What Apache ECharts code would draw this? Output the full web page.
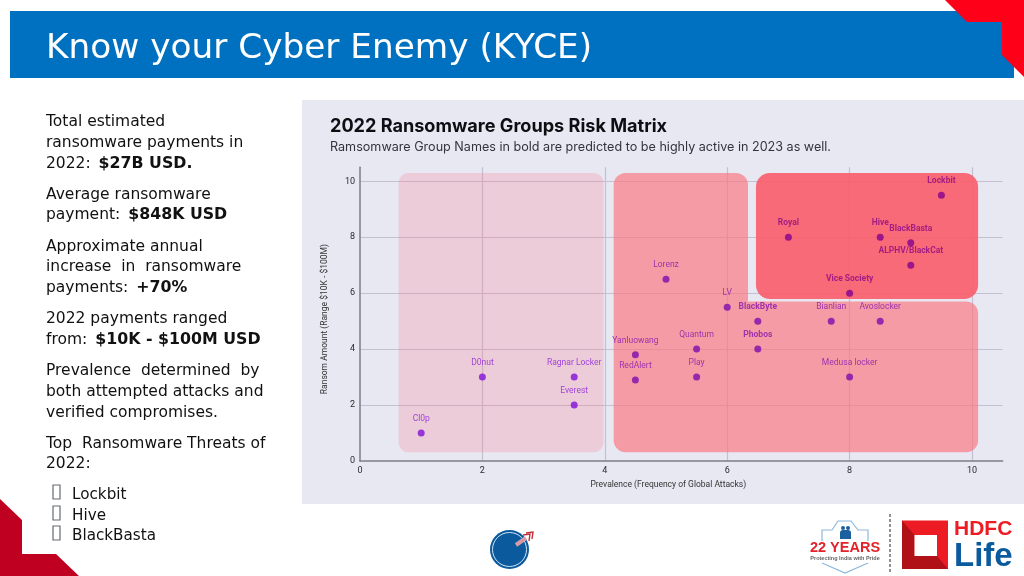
<!DOCTYPE html>
<html>
<head>
<meta charset="utf-8">
<title>Know your Cyber Enemy (KYCE)</title>
<style>
  html, body { margin: 0; padding: 0; background: #fff; }
  #main { width: 1024px; height: 576px; }
</style>
</head>
<body>
<div id="main"></div>
<script src="https://cdn.jsdelivr.net/npm/echarts@6/dist/echarts.min.js"></script>
<script>
// groups
const groupNames = ["Cl0p", "D0nut", "Ragnar Locker", "Everest", "Yanluowang", "RedAlert", "Lorenz", "LV", "Quantum", "Play", "Medusa locker", "Bianlian", "Avoslocker"];
const prevalence = [1, 2, 3.5, 3.5, 4.5, 4.5, 5, 6, 5.5, 5.5, 8, 7.7, 8.5];
const ransomAmount = [1, 3, 3, 2, 3.8, 2.9, 6.5, 5.5, 4, 3, 3, 5, 5];
const groupTiers = [0, 0, 0, 0, 1, 1, 1, 1, 1, 1, 1, 1, 1];

// names in bold
const activeNames = ["BlackByte", "Phobos", "Vice Society", "Royal", "Hive", "BlackBasta", "ALPHV/BlackCat", "Lockbit"];
const activePrevalence = [6.5, 6.5, 8, 7, 8.5, 9, 9, 9.5];
const activeRansom = [5, 4, 6, 8, 8, 7.8, 7, 9.5];
const activeTiers = [1, 1, 2, 2, 2, 2, 2, 2];

// risk zones: x0, y0, x1, y1, zone tier
const zoneLow = [0.63, 0.31, 3.98, 10.3, 0];
const zoneMidTall = [4.145, 0.31, 6.34, 10.3, 1];
const zoneMidWide = [6.34, 0.31, 10.1, 5.7, 2];
const zoneHigh = [6.47, 5.79, 10.1, 10.3, 3];

const xTicksMax = 10.5;
const yTicksMax = 10.5;

const zoneColors = ["rgba(248,120,135,0.25)", "rgba(249,122,133,0.7)", "rgba(249,122,133,0.7)", "rgba(251,92,106,0.9)"];
const zoneRadius = [[10, 10, 10, 10], [12, 12, 0, 12], [0, 12, 12, 0], [14, 14, 14, 14]];
const dotColors = ["#8210d8", "#7c0cae", "#86008e"];
const labelColors = ["#8c22d8", "#8c16ac", "#8e0a84"];

const bodyFont = "DejaVu Sans";
const labelFont = "Roboto";

function pointData(xs, ys, names, tiers) {
  return xs.map((x, i) => ({
    value: [x, ys[i]],
    name: names[i],
    itemStyle: { color: dotColors[tiers[i]] },
    label: { color: labelColors[tiers[i]] }
  }));
}

function renderZone(params, api) {
  const a = api.coord([api.value(0), api.value(3)]);
  const b = api.coord([api.value(2), api.value(1)]);
  const tier = api.value(4);
  return {
    type: "rect",
    shape: { x: a[0], y: a[1], width: b[0] - a[0], height: b[1] - a[1], r: zoneRadius[tier] },
    style: { fill: zoneColors[tier] }
  };
}

// left column, one entry per line: [y, rich text]
const bodyLines = [
  [121, "Total estimated"],
  [142, "ransomware payments in"],
  [163, "2022: {b|$27B USD.}"],
  [194, "Average ransomware"],
  [214, "payment: {b|$848K USD}"],
  [246, "Approximate annual"],
  [266, "increase  in  ransomware"],
  [287, "payments: {b|+70%}"],
  [318, "2022 payments ranged"],
  [339, "from: {b|$10K - $100M USD}"],
  [370, "Prevalence  determined  by"],
  [391, "both attempted attacks and"],
  [412, "verified compromises."],
  [443, "Top  Ransomware Threats of"],
  [463, "2022:"]
];
const bulletLines = [[494, "Lockbit"], [515, "Hive"], [535, "BlackBasta"]];

const slideGraphics = [
  { type: "rect", z: -5, shape: { x: 10, y: 11, width: 1004, height: 67 }, style: { fill: "#0070c0" } },
  { type: "polygon", z: -4, shape: { points: [[945, 0], [1024, 0], [1024, 77], [1002, 55], [1002, 22], [967, 22]] }, style: { fill: "#ff0019" } },
  { type: "polygon", z: -4, shape: { points: [[0, 499], [22, 520], [22, 554], [56, 554], [79, 576], [0, 576]] }, style: { fill: "#c00020" } },
  { type: "rect", z: -5, shape: { x: 302, y: 100, width: 722, height: 404 }, style: { fill: "#e8e8f3" } },
  { type: "text", x: 46, y: 49, style: { text: "Know your Cyber Enemy (KYCE)", fill: "#fff", font: "34.3px 'DejaVu Sans'", textVerticalAlign: "middle" } }
];

bodyLines.forEach(([y, text]) => {
  slideGraphics.push({
    type: "text", x: 46, y: y + 1,
    style: {
      text: text, fill: "#111", fontFamily: bodyFont, fontSize: 15.5, textVerticalAlign: "middle",
      rich: { b: { fontFamily: bodyFont, fontSize: 15.8, fontWeight: "bold", fill: "#111", padding: [0, 0, 0, 3] } }
    }
  });
});
bulletLines.forEach(([y, text]) => {
  slideGraphics.push({ type: "rect", shape: { x: 53, y: y - 9, width: 7, height: 14 }, style: { fill: "none", stroke: "#666a72", lineWidth: 1.2 } });
  slideGraphics.push({ type: "text", x: 72, y: y + 1.5, style: { text: text, fill: "#111", fontFamily: bodyFont, fontSize: 15.2, textVerticalAlign: "middle" } });
});

// footer logos
slideGraphics.push(
  { type: "circle", shape: { cx: 509.5, cy: 549.5, r: 19.5 }, style: { fill: "#0b5a9e" } },
  { type: "circle", shape: { cx: 509.5, cy: 549.5, r: 17 }, style: { fill: "none", stroke: "#cfe4f2", lineWidth: 1 } },
  { type: "line", shape: { x1: 516, y1: 545, x2: 526, y2: 538 }, style: { stroke: "#d99aa8", lineWidth: 4 } },
  { type: "polyline", shape: { points: [[523, 535], [530, 534], [529, 541]] }, style: { fill: "none", stroke: "#c0303a", lineWidth: 1.4 } },
  { type: "polyline", shape: { points: [[526, 533], [533, 532], [532, 539]] }, style: { fill: "none", stroke: "#c0303a", lineWidth: 1.4 } },
  { type: "polyline", shape: { points: [[822, 541], [822, 530], [832, 530], [838, 521], [851, 521], [858, 530], [868, 530], [868, 541]] }, style: { fill: "none", stroke: "#8db8dc", lineWidth: 1.2 } },
  { type: "polyline", shape: { points: [[822, 563], [845, 573], [868, 563]] }, style: { fill: "none", stroke: "#8db8dc", lineWidth: 1.2 } },
  { type: "circle", shape: { cx: 843, cy: 528, r: 2 }, style: { fill: "#1a5f9e" } },
  { type: "circle", shape: { cx: 848, cy: 528, r: 2 }, style: { fill: "#1a5f9e" } },
  { type: "rect", shape: { x: 840, y: 530, width: 11, height: 9, r: [3, 3, 0, 0] }, style: { fill: "#1a5f9e" } },
  { type: "text", x: 845, y: 547.5, style: { text: "22 YEARS", fill: "#e3232b", font: "bold 14.5px 'Liberation Sans'", textAlign: "center", textVerticalAlign: "middle" } },
  { type: "text", x: 845, y: 558, style: { text: "Protecting India with Pride", fill: "#666", font: "bold 5.5px 'Liberation Sans'", textAlign: "center", textVerticalAlign: "middle" } },
  { type: "line", shape: { x1: 890, y1: 514, x2: 890, y2: 574 }, style: { stroke: "#222", lineWidth: 1, lineDash: [3, 2] } },
  { type: "rect", shape: { x: 902, y: 520.5, width: 46, height: 48.5 }, style: { fill: "#ed1c24" } },
  { type: "polygon", shape: { points: [[902, 520.5], [914.5, 535], [914.5, 556], [937, 556], [948, 569], [902, 569]] }, style: { fill: "#b01116" } },
  { type: "rect", shape: { x: 914.5, y: 535, width: 22.5, height: 21 }, style: { fill: "#fff" } },
  { type: "text", x: 954, y: 529.5, style: { text: "HDFC", fill: "#ed1c24", font: "bold 21px 'Liberation Sans'", textVerticalAlign: "middle" } },
  { type: "text", x: 954, y: 557, style: { text: "Life", fill: "#0b5a9e", font: "bold 33px 'Liberation Sans'", textVerticalAlign: "middle" } }
);

const chart = echarts.init(document.getElementById("main"), null, { renderer: "canvas" });

const baseLabel = { show: true, position: "top", distance: 6, fontFamily: labelFont, fontSize: 8.5, formatter: (p) => p.name };
const gridLine = { show: true, showMaxLine: false, showMinLine: false, lineStyle: { color: "#c4bfd2", width: 1.2 } };

chart.setOption({
  animation: false,
  backgroundColor: "#fff",
  title: {
    left: 330, top: 118,
    text: "2022 Ransomware Groups Risk Matrix",
    textStyle: { fontFamily: "Inter", fontWeight: "bold", fontSize: 18.1, color: "#0d0d12" },
    subtext: "Ramsomware Group Names in bold are predicted to be highly active in 2023 as well.",
    subtextStyle: { fontFamily: "Inter", fontSize: 12.6, color: "#33333a" },
    itemGap: 5,
    padding: 0
  },
  graphic: { elements: slideGraphics },
  grid: { left: 360, right: 21.4, top: 167.3, bottom: 115, containLabel: false },
  xAxis: {
    type: "value", min: 0, max: xTicksMax, interval: 2,
    name: "Prevalence (Frequency of Global Attacks)", nameLocation: "middle", nameGap: 17,
    nameTextStyle: { fontFamily: labelFont, fontSize: 8.5, color: "#333", padding: [0, 26, 0, 0] },
    axisLine: { show: true, lineStyle: { color: "#7d7d8a", width: 1.5 } },
    axisTick: { show: false },
    axisLabel: { fontFamily: labelFont, fontSize: 9, color: "#2a2a30", margin: 5, showMaxLabel: false },
    splitLine: gridLine
  },
  yAxis: {
    type: "value", min: 0, max: yTicksMax, interval: 2,
    name: "Ransom Amount (Range $10K - $100M)", nameLocation: "middle", nameGap: 31,
    nameTextStyle: { fontFamily: labelFont, fontSize: 8.5, color: "#333", padding: [0, 10, 0, 0] },
    axisLine: { show: true, lineStyle: { color: "#7d7d8a", width: 1.5 } },
    axisTick: { show: false },
    axisLabel: { fontFamily: labelFont, fontSize: 9, color: "#2a2a30", margin: 5, showMaxLabel: false },
    splitLine: gridLine
  },
  series: [
    {
      type: "custom", name: "Zones", z: 1, clip: false, silent: true,
      renderItem: renderZone,
      encode: { x: [0, 2], y: [1, 3] },
      data: [zoneLow, zoneMidTall, zoneMidWide, zoneHigh]
    },
    {
      type: "scatter", name: "Groups", z: 3, symbolSize: 7,
      label: baseLabel,
      data: pointData(prevalence, ransomAmount, groupNames, groupTiers)
    },
    {
      type: "scatter", name: "Predicted active", z: 3, symbolSize: 7,
      label: Object.assign({}, baseLabel, { fontWeight: "bold" }),
      data: pointData(activePrevalence, activeRansom, activeNames, activeTiers)
    }
  ]
});
</script>
</body>
</html>
